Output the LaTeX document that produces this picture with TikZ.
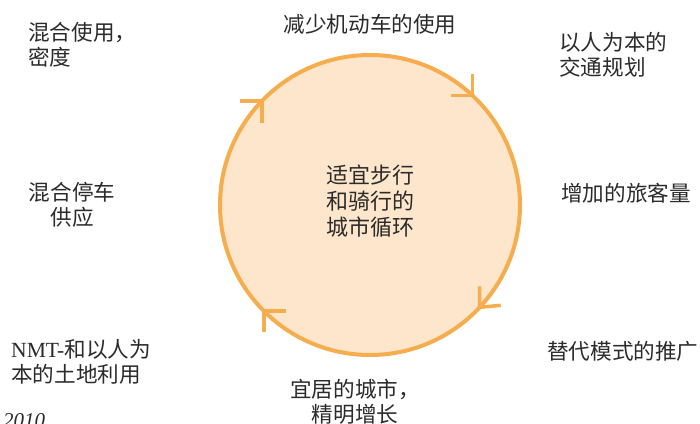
\documentclass[tikz,border=0pt]{standalone}
\usepackage{fontspec}
\setmainfont{Noto Sans CJK SC}
\newfontfamily\lat{Liberation Serif}
\usetikzlibrary{calc}
\definecolor{ring}{HTML}{F5AD4D}
\definecolor{ringfill}{HTML}{FDE6CB}
\definecolor{txt}{HTML}{2B2B2B}
\begin{document}
\begin{tikzpicture}[x=1pt,y=-1pt,
  lbl/.style={inner sep=0pt, text=txt, font=\fontsize{21.6}{25}\selectfont},
  arrowleg/.style={draw=ring, line width=3.5pt}]
\useasboundingbox (0,0) rectangle (700,423);
\clip (0,0) rectangle (700,423);
\fill[white] (0,0) rectangle (700,423);
\node[circle, draw=ring, fill=ringfill, line width=4pt, minimum size=300pt, inner sep=0pt, outer sep=0pt] (c) at (370,205) {};
\node[lbl, align=center, font=\fontsize{22}{26}\selectfont] (mid) at (370,201) {适宜步行\\和骑行的\\城市循环};
\node[lbl] (top) at (370,24) {减少机动车的使用};
\node[lbl, align=left, anchor=west] (tr) at (559,55) {以人为本的\\交通规划};
\node[lbl, align=left, anchor=west] (tl) at (28,45) {混合使用，\\密度};
\node[lbl, align=center] (ml) at (72,205) {混合停车\\供应};
\node[lbl, anchor=west] (mr) at (561,193) {增加的旅客量};
\node[lbl, anchor=west] (br) at (547,351) {替代模式的推广};
\node[lbl, align=left, anchor=west] (bl) at (11,362) {{\lat NMT-}和以人为\\本的土地利用};
\node[lbl, align=center] (bot) at (355,402) {宜居的城市，\\精明增长};
\node[lbl, anchor=base west, font=\lat\itshape\fontsize{21}{25}\selectfont] (yr) at (3,427) {2010};
\draw[arrowleg] ($(c.136)+(-22,0)$) -- (c.136) -- ++(0,22);
\draw[arrowleg] ($(c.47)+(-21,0)$) -- (c.47) -- ++(0,-21);
\draw[arrowleg] ($(c.-43)+(0,-21)$) -- (c.-43) -- ++(21,-2);
\draw[arrowleg] ($(c.-135)+(22,0)$) -- (c.-135) -- ++(0,21);
\end{tikzpicture}
\end{document}
